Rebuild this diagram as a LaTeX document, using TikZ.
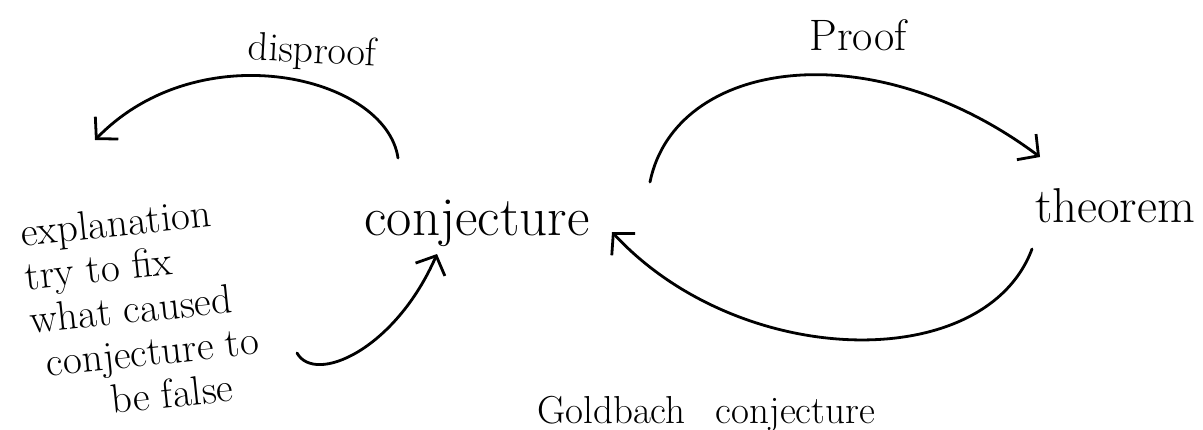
\documentclass[tikz,border=0pt]{standalone}
\usepackage{fontspec}
\usetikzlibrary{arrows.meta}

\begin{document}
\begin{tikzpicture}[
  x=1pt, y=-1pt,
  hand/.style={line width=2.8pt, line cap=round, line join=round,
    -{Straight Barb[length=15pt, width=32pt]}},
  word/.style 2 args={inner sep=0pt, anchor=base,
    font=\fontsize{#1}{#2}\selectfont},
]
\useasboundingbox (0,0) rectangle (1203,429);

% ---- the two states ----
\node[word={55}{60}] (conj) at (477,235) {conjecture};
\node[word={49}{54}] (thm) at (1115,222) {theorem};

% ---- arrow labels ----
\node[word={40}{44}, rotate=-3] (disp) at (312,63) {disproof};
\node[word={44}{48}] (prf) at (858,50) {Proof};

% ---- note on the left ----
\node[word={41}{44}, anchor=center, align=left, rotate=6] (expl) at (142,308)
  {explanation\\ try to fix\\ what caused\\
   \hspace*{12pt}conjecture to\\ \hspace*{72pt}be false};

% ---- example at the bottom ----
\node[word={39}{43}, anchor=base west] (gold) at (537,423)
  {Goldbach\hspace{30pt}conjecture};

% ---- arrow ends ----
\coordinate (dis-a) at (398,158);
\coordinate (dis-b) at (95,140);
\coordinate (prf-a) at (650,182);
\coordinate (prf-b) at (1040,157);
\coordinate (back-a) at (1032,249);
\coordinate (back-b) at (612,232);
\coordinate (fix-a) at (297,353);
\coordinate (fix-b) at (437,254);

% ---- arrows ----
\draw[hand] (dis-a) .. controls (386,76) and (200,32) .. (dis-b);
\draw[hand] (prf-a) .. controls (675,60) and (870,30) .. (prf-b);
\draw[hand] (back-a) .. controls (985,375) and (740,370) .. (back-b);
\draw[hand] (fix-a) .. controls (315,385) and (395,350) .. (fix-b);

\end{tikzpicture}
\end{document}
